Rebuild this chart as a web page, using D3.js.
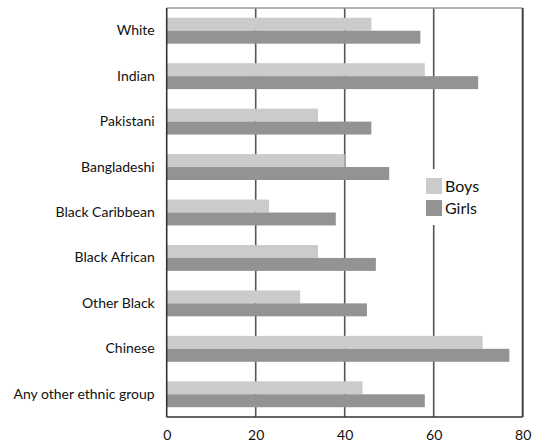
<!DOCTYPE html>
<html><head><meta charset="utf-8">
<script src="https://cdn.jsdelivr.net/npm/d3@7"></script>
<style>body{margin:0;background:#fff}svg{display:block}text{font-family:Lato,"Open Sans",sans-serif;fill:#111}</style>
</head><body><svg id="c" width="537" height="444"></svg>
<script>
const categories = ["White","Indian","Pakistani","Bangladeshi","Black Caribbean","Black African","Other Black","Chinese","Any other ethnic group"];
const boys  = [46, 58, 34, 40, 23, 34, 30, 71, 44];
const girls = [57, 70, 46, 50, 38, 47, 45, 77, 58];
const seriesNames = ["Boys","Girls"];
const seriesColors = ["#cbcbcb","#939393"];
const xTicks = [0,20,40,60,80];

const svg = d3.select("#c");
const m = {l:166.7, r:522.7, t:8, b:417};
const x = d3.scaleLinear().domain([0,80]).range([m.l,m.r]);
const y = d3.scaleBand().domain(categories).range([m.t,m.b]).paddingInner(0.43).paddingOuter(0.215);
const ys = d3.scaleBand().domain(seriesNames).range([0,y.bandwidth()]);

// grid lines
svg.append("g").selectAll("line").data(xTicks.filter(d=>d>0&&d<80)).join("line")
  .attr("x1",d=>x(d)).attr("x2",d=>x(d)).attr("y1",m.t).attr("y2",m.b)
  .attr("stroke","#555").attr("stroke-width",1.6);

// bars
const data = categories.map((c,i)=>({c, vals:[boys[i],girls[i]]}));
const g = svg.append("g").selectAll("g").data(data).join("g").attr("transform",d=>`translate(0,${y(d.c)})`);
g.selectAll("rect").data(d=>d.vals.map((v,j)=>({v,s:seriesNames[j],j}))).join("rect")
  .attr("x",x(0)).attr("y",d=>ys(d.s)).attr("height",ys.bandwidth())
  .attr("width",d=>x(d.v)-x(0)).attr("fill",d=>seriesColors[d.j]);

// legend (white background hides grid)
const lg = svg.append("g").attr("transform","translate(420,169)");
lg.append("rect").attr("x",0).attr("y",0).attr("width",70).attr("height",56).attr("fill","#fff");
seriesNames.forEach((s,i)=>{
  lg.append("rect").attr("x",6).attr("y",9+i*22).attr("width",16).attr("height",16).attr("fill",seriesColors[i]);
  lg.append("text").attr("x",25).attr("y",23+i*22).attr("font-size",16).text(s);
});

// frame
svg.append("line").attr("x1",m.l).attr("x2",m.r).attr("y1",m.t).attr("y2",m.t).attr("stroke","#999").attr("stroke-width",1.5);
svg.append("line").attr("x1",m.l).attr("x2",m.r).attr("y1",m.b).attr("y2",m.b).attr("stroke","#333").attr("stroke-width",1.6);
svg.append("line").attr("x1",m.l).attr("x2",m.l).attr("y1",m.t).attr("y2",m.b).attr("stroke","#333").attr("stroke-width",1.6);
svg.append("line").attr("x1",m.r).attr("x2",m.r).attr("y1",m.t).attr("y2",m.b).attr("stroke","#444").attr("stroke-width",2);

// axes
const xa = svg.append("g").attr("transform",`translate(0,${m.b})`)
  .call(d3.axisBottom(x).tickValues(xTicks).tickSize(0).tickPadding(13));
xa.select(".domain").remove();
xa.selectAll("text").attr("font-size",14).attr("font-family","Lato,sans-serif").attr("fill","#111");

const ya = svg.append("g").attr("transform",`translate(${m.l},0)`)
  .call(d3.axisLeft(y).tickSize(0).tickPadding(12));
ya.select(".domain").remove();
ya.selectAll("text").attr("font-size",14).attr("font-family","Lato,sans-serif").attr("fill","#111");
</script></body></html>
